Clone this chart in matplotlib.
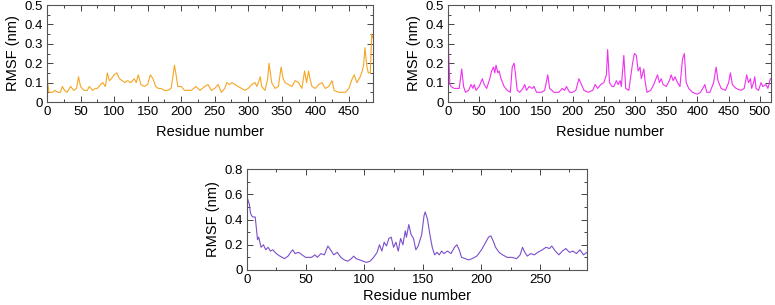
import matplotlib
matplotlib.use("Agg")
import matplotlib.pyplot as plt
from matplotlib.ticker import MultipleLocator

plt.rcParams['font.family'] = ['Liberation Sans', 'DejaVu Sans']

# ---- Data: protein A (orange) ----
res_a = [0, 1, 3, 5, 8, 12, 16, 20, 23, 26, 30, 35, 40, 44, 47, 50, 55, 60, 63, 68, 72, 75, 80, 83, 87,
         90, 93, 96, 100, 104, 108, 112, 116, 120, 125, 130, 133, 136, 140, 145, 150, 154, 158, 162, 166,
         170, 175, 180, 185, 188, 190, 192, 195, 200, 205, 210, 215, 222, 228, 235, 240, 245, 250, 255,
         260, 265, 268, 272, 276, 280, 285, 290, 295, 300, 305, 310, 313, 318, 320, 325, 329, 331, 335,
         340, 345, 349, 352, 355, 360, 365, 370, 375, 380, 384, 387, 390, 392, 395, 400, 405, 410, 415,
         420, 425, 428, 435, 445, 450, 455, 458, 462, 467, 470, 472, 474, 477, 479, 482, 484, 486]
rmsf_a = [0.20, 0.10, 0.05, 0.05, 0.05, 0.06, 0.05, 0.05, 0.08, 0.06, 0.05, 0.08, 0.06, 0.07, 0.13, 0.08,
          0.06, 0.06, 0.08, 0.06, 0.07, 0.07, 0.09, 0.10, 0.08, 0.15, 0.11, 0.12, 0.14, 0.15, 0.12, 0.11,
          0.10, 0.11, 0.10, 0.12, 0.10, 0.14, 0.09, 0.08, 0.09, 0.14, 0.12, 0.08, 0.07, 0.07, 0.06, 0.06,
          0.07, 0.14, 0.19, 0.15, 0.08, 0.08, 0.06, 0.06, 0.06, 0.08, 0.06, 0.08, 0.09, 0.06, 0.07, 0.09,
          0.05, 0.07, 0.10, 0.09, 0.10, 0.09, 0.08, 0.07, 0.06, 0.07, 0.09, 0.10, 0.08, 0.13, 0.08, 0.06,
          0.12, 0.20, 0.10, 0.07, 0.08, 0.18, 0.12, 0.10, 0.09, 0.08, 0.11, 0.10, 0.07, 0.16, 0.10, 0.16,
          0.12, 0.08, 0.07, 0.09, 0.10, 0.07, 0.08, 0.11, 0.06, 0.05, 0.05, 0.07, 0.12, 0.14, 0.10, 0.13,
          0.16, 0.19, 0.28, 0.18, 0.15, 0.15, 0.35, 0.33]

# ---- Data: protein B (magenta) ----
res_b = [0, 1, 3, 5, 10, 15, 18, 22, 25, 28, 33, 37, 40, 42, 45, 50, 55, 58, 62, 67, 70, 73, 75, 77, 80,
         82, 85, 90, 95, 100, 103, 106, 108, 111, 115, 120, 123, 126, 130, 135, 138, 142, 150, 155, 160,
         163, 170, 178, 183, 187, 190, 195, 200, 205, 210, 214, 218, 225, 232, 236, 240, 245, 250, 254,
         256, 259, 263, 266, 270, 273, 276, 278, 282, 285, 290, 296, 299, 302, 305, 308, 310, 314, 316,
         319, 325, 330, 336, 339, 342, 345, 350, 355, 358, 361, 364, 368, 372, 376, 379, 382, 386, 392,
         400, 405, 412, 415, 420, 426, 430, 433, 438, 445, 450, 453, 456, 462, 470, 475, 479, 482, 485,
         487, 490, 492, 494, 498, 502, 505, 510, 513, 517]
rmsf_b = [0.42, 0.25, 0.09, 0.08, 0.07, 0.07, 0.07, 0.17, 0.08, 0.05, 0.06, 0.09, 0.07, 0.09, 0.06, 0.08,
          0.12, 0.09, 0.07, 0.12, 0.16, 0.18, 0.15, 0.19, 0.15, 0.16, 0.12, 0.08, 0.06, 0.05, 0.18, 0.20,
          0.15, 0.06, 0.05, 0.07, 0.09, 0.06, 0.08, 0.07, 0.08, 0.05, 0.05, 0.06, 0.14, 0.07, 0.05, 0.05,
          0.07, 0.06, 0.08, 0.05, 0.05, 0.06, 0.12, 0.09, 0.06, 0.05, 0.06, 0.09, 0.07, 0.09, 0.10, 0.14,
          0.27, 0.10, 0.08, 0.08, 0.11, 0.09, 0.11, 0.08, 0.24, 0.07, 0.06, 0.20, 0.25, 0.24, 0.16, 0.18,
          0.12, 0.17, 0.11, 0.05, 0.06, 0.09, 0.14, 0.10, 0.12, 0.09, 0.08, 0.11, 0.14, 0.11, 0.13, 0.10,
          0.08, 0.22, 0.25, 0.10, 0.07, 0.05, 0.04, 0.05, 0.09, 0.05, 0.05, 0.10, 0.18, 0.11, 0.07, 0.06,
          0.10, 0.15, 0.09, 0.07, 0.06, 0.07, 0.14, 0.10, 0.12, 0.07, 0.10, 0.13, 0.07, 0.06, 0.10, 0.08,
          0.09, 0.07, 0.12]

# ---- Data: protein C (purple) ----
res_c = [0, 2, 3, 4, 5, 7, 8, 9, 10, 12, 14, 16, 18, 20, 22, 25, 28, 30, 32, 35, 38, 39, 41, 44, 47, 50,
         55, 58, 60, 63, 66, 69, 72, 74, 77, 80, 83, 86, 89, 91, 93, 96, 99, 102, 105, 108, 111, 113, 115,
         117, 119, 121, 123, 125, 127, 129, 131, 133, 135, 136, 138, 140, 142, 144, 146, 149, 151, 152,
         154, 156, 158, 160, 162, 164, 166, 168, 171, 174, 177, 179, 181, 183, 186, 189, 192, 196, 200,
         203, 206, 208, 210, 212, 215, 218, 222, 226, 230, 233, 235, 237, 239, 242, 245, 248, 252, 255,
         258, 260, 263, 266, 269, 272, 275, 278, 281, 284, 287, 290]
rmsf_c = [0.58, 0.52, 0.45, 0.43, 0.42, 0.42, 0.33, 0.24, 0.26, 0.18, 0.20, 0.16, 0.18, 0.15, 0.16, 0.13,
          0.11, 0.10, 0.09, 0.11, 0.15, 0.16, 0.13, 0.14, 0.12, 0.10, 0.10, 0.12, 0.10, 0.13, 0.12, 0.19,
          0.15, 0.12, 0.14, 0.10, 0.08, 0.07, 0.09, 0.11, 0.09, 0.08, 0.07, 0.06, 0.07, 0.10, 0.14, 0.20,
          0.15, 0.22, 0.19, 0.25, 0.26, 0.18, 0.22, 0.15, 0.25, 0.20, 0.31, 0.26, 0.36, 0.28, 0.25, 0.16,
          0.19, 0.28, 0.43, 0.46, 0.40, 0.28, 0.18, 0.12, 0.14, 0.12, 0.15, 0.13, 0.15, 0.13, 0.18, 0.20,
          0.16, 0.10, 0.09, 0.08, 0.09, 0.11, 0.16, 0.21, 0.26, 0.27, 0.23, 0.18, 0.14, 0.12, 0.10, 0.10,
          0.09, 0.12, 0.18, 0.14, 0.11, 0.13, 0.12, 0.14, 0.16, 0.18, 0.17, 0.19, 0.15, 0.12, 0.15, 0.17,
          0.14, 0.15, 0.13, 0.16, 0.12, 0.14]

W, H = 775, 305
fig = plt.figure(figsize=(W / 100, H / 100), dpi=100)


def px_axes(left, top, right, bottom):
    return fig.add_axes([left / W, 1 - bottom / H, (right - left) / W, (bottom - top) / H])


def style(ax, xmax, ymax, ymaj, ymin, xpad=5, xmaj=50, xmin=25):
    ax.set_xlim(0, xmax)
    ax.set_ylim(0, ymax)
    ax.xaxis.set_major_locator(MultipleLocator(xmaj))
    ax.xaxis.set_minor_locator(MultipleLocator(xmin))
    ax.yaxis.set_major_locator(MultipleLocator(ymaj))
    ax.yaxis.set_minor_locator(MultipleLocator(ymin))
    ax.tick_params(which='both', direction='in', top=True, right=True, labelsize=9.5,
                   color='#444444', pad=3)
    ax.tick_params(which='major', length=4, width=0.7)
    ax.tick_params(which='minor', length=2, width=0.7)
    for s in ax.spines.values():
        s.set_color('#555555')
        s.set_linewidth(0.8)
    ax.yaxis.set_major_formatter(plt.FuncFormatter(lambda v, p: '0' if abs(v) < 1e-9 else f'{v:g}'))
    ax.set_xlabel('Residue number', fontsize=10.5, labelpad=xpad)
    ax.set_ylabel('RMSF (nm)', fontsize=10.5, labelpad=3)


ax1 = px_axes(47, 5, 373, 102)
ax1.plot(res_a, rmsf_a, color='#F5A623', lw=0.8)
style(ax1, 486, 0.5, 0.1, 0.05)

ax2 = px_axes(448, 5, 771, 102)
ax2.plot(res_b, rmsf_b, color='#F030F0', lw=0.8)
style(ax2, 518, 0.5, 0.1, 0.05)

ax3 = px_axes(247, 169, 587, 270)
ax3.plot(res_c, rmsf_c, color='#7B4FCC', lw=0.8)
style(ax3, 290, 0.8, 0.2, 0.1, xpad=2)

fig.savefig('out.png', dpi=100)
